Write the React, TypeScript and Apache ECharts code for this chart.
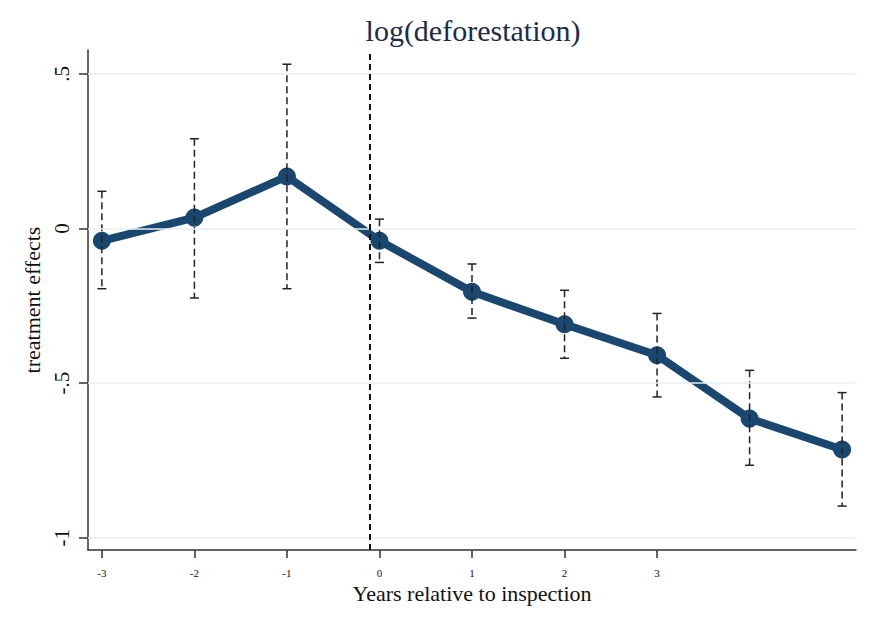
import React, { useEffect, useRef } from "react";
import * as echarts from "echarts";

const years = [-3, -2, -1, 0, 1, 2, 3, 4, 5];
const estimates = [-0.04, 0.035, 0.168, -0.04, -0.205, -0.31, -0.41, -0.615, -0.715];
const ciUpper = [0.12, 0.29, 0.531, 0.03, -0.115, -0.2, -0.275, -0.459, -0.531];
const ciLower = [-0.195, -0.225, -0.195, -0.11, -0.29, -0.42, -0.545, -0.766, -0.898];
const xTickLabels = [-3, -2, -1, 0, 1, 2, 3];
const yTickValues = [-1, -0.5, 0, 0.5];
const inspectionLine = -0.1;

const FONT = '"Liberation Serif", "Times New Roman", serif';

function fmtY(v: number): string {
  if (v === 0) return "0";
  if (v === -1) return "-1";
  if (v === 1) return "1";
  const s = String(v);
  return s.replace("0.", ".");
}

export default function App() {
  const ref = useRef<HTMLDivElement>(null);
  useEffect(() => {
    document.body.style.margin = "0";
    const chart = echarts.init(ref.current!, null, { renderer: "svg" });
    const option: any = {
      animation: false,
      backgroundColor: "#ffffff",
      title: {
        text: "log(deforestation)",
        left: 468,
        top: 10,
        textAlign: "center",
        textStyle: { fontFamily: FONT, fontSize: 30, fontWeight: "normal", color: "#1c2b4a" },
      },
      grid: { left: 88, right: 22, top: 50, bottom: 78, containLabel: false },
      xAxis: {
        type: "value",
        min: -3.15,
        max: 5.15,
        name: "Years relative to inspection",
        nameLocation: "middle",
        nameGap: 31,
        nameTextStyle: { fontFamily: FONT, fontSize: 22, color: "#111" },
        axisLine: { show: true, onZero: false, lineStyle: { color: "#333", width: 1.5 } },
        axisTick: { show: true, customValues: xTickLabels, length: 8, lineStyle: { color: "#333", width: 1.5 } },
        axisLabel: { customValues: xTickLabels, margin: 17, fontFamily: FONT, fontSize: 11, color: "#111" },
        splitLine: { show: false },
      },
      yAxis: {
        type: "value",
        min: -1.04,
        max: 0.577,
        name: "treatment effects",
        nameLocation: "middle",
        nameGap: 40,
        nameTextStyle: { fontFamily: FONT, fontSize: 22, color: "#111" },
        axisLine: { show: true, onZero: false, lineStyle: { color: "#333", width: 1.5 } },
        axisTick: { show: true, customValues: yTickValues, length: 9, lineStyle: { color: "#333", width: 1.5 } },
        axisLabel: {
          customValues: yTickValues,
          rotate: 90,
          margin: 16,
          fontFamily: FONT,
          fontSize: 21,
          color: "#111",
          formatter: (v: number) => fmtY(v),
        },
        splitLine: { show: false },
      },
      series: [
        {
          type: "line",
          data: years.map((x, i) => [x, estimates[i]]),
          showSymbol: false,
          lineStyle: { width: 0, opacity: 0 },
          silent: true,
          z: 0,
          markLine: {
            silent: true,
            symbol: ["none", "none"],
            label: { show: false },
            lineStyle: { color: "#e6eff2", width: 1.5, type: "solid" },
            data: yTickValues.map((v) => ({ yAxis: v })),
          },
        },
        {
          type: "line",
          data: years.map((x, i) => [x, estimates[i]]),
          symbol: "circle",
          symbolSize: 18,
          lineStyle: { color: "#1a476f", width: 8 },
          itemStyle: { color: "#1a476f" },
          z: 3,
        },
        {
          type: "custom",
          z: 4,
          data: years.map((x, i) => [x, ciLower[i], ciUpper[i]]),
          encode: { x: 0, y: [1, 2] },
          renderItem: (params: any, api: any) => {
            const x = api.value(0);
            const pLo = api.coord([x, api.value(1)]);
            const pHi = api.coord([x, api.value(2)]);
            const hw = 4.5;
            const st = { stroke: "#222", lineWidth: 1.5 };
            return {
              type: "group",
              children: [
                { type: "line", shape: { x1: pHi[0], y1: pHi[1], x2: pLo[0], y2: pLo[1] }, style: { ...st, lineDash: [7, 4] } },
                { type: "line", shape: { x1: pHi[0] - hw, y1: pHi[1], x2: pHi[0] + hw, y2: pHi[1] }, style: st },
                { type: "line", shape: { x1: pLo[0] - hw, y1: pLo[1], x2: pLo[0] + hw, y2: pLo[1] }, style: st },
              ],
            };
          },
        },
        {
          type: "line",
          data: [],
          z: 5,
          markLine: {
            silent: true,
            symbol: ["none", "none"],
            label: { show: false },
            lineStyle: { color: "#111", width: 2, type: [6, 4] },
            data: [{ xAxis: inspectionLine }],
          },
        },
      ],
    };
    chart.setOption(option);
    return () => chart.dispose();
  }, []);
  return <div ref={ref} style={{ width: 878, height: 628, position: "absolute", left: 0, top: 0 }} />;
}
